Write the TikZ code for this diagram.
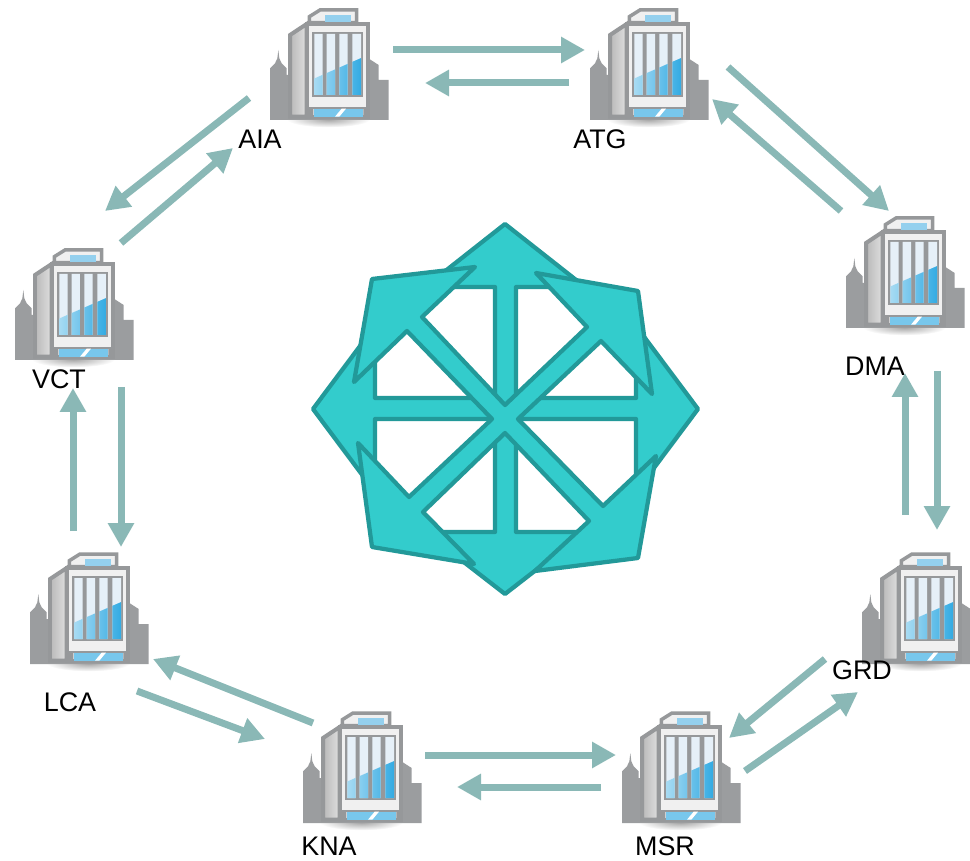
\documentclass[tikz,border=0pt]{standalone}
\usepackage{fontspec}
\setmainfont{Liberation Sans}
\usetikzlibrary{arrows.meta}
\definecolor{flowgreen}{HTML}{8AB8B6}
\definecolor{starfill}{HTML}{33CCCC}
\definecolor{starline}{HTML}{229999}
\definecolor{skygray}{HTML}{9B9D9F}
\definecolor{wallgray}{HTML}{96989A}
\definecolor{paneblue}{HTML}{2FA9E2}
\definecolor{panelight}{HTML}{E6F0F8}
\tikzset{
  flow/.style={draw=flowgreen,line width=0.14cm,-{Triangle[length=0.48cm,width=0.5cm]}},
  starpart/.style={draw=starline,fill=starfill,line width=0.085cm,line join=round},
  lbl/.style={font=\fontsize{15.3pt}{16pt}\selectfont,text=black,inner sep=0pt},
  bldg/.pic={
    \begin{scope}[scale=1/3]
    \shade[inner color=gray!70,outer color=white,draw=none] (205,358) ellipse (125 and 24);
    %Skyline
    \fill[skygray] (30,360)--(30,205)--(45,190)--(52,175)--(55,150)--(58,175)--(65,190)--(80,205)--(80,225)--(100,225)--(325,175)--(356,195)--(356,240)--(386,240)--(386,360)--cycle;
    %Side wing
    \path[left color=gray!55,right color=gray!25,draw=wallgray,line width=0.08cm] (90,105)--(140,72)--(140,350)--(90,350)--cycle;
    %Penthouse
    \draw[wallgray,fill=gray!12,line width=0.07cm] (148,68)--(148,50)--(180,30)--(290,30)--(290,68)--cycle;
    \fill[panelight!55!paneblue] (195,45) rectangle (272,65);
    %Facade
    \draw[wallgray,fill=gray!12,line width=0.08cm] (140,72) rectangle (325,352);
    \fill[wallgray] (157,95) rectangle (308,291);
    \begin{scope}
    \clip (163,102) rectangle (188,285) (200,102) rectangle (225,285) (238,102) rectangle (263,285) (277,102) rectangle (303,285);
    \fill[panelight] (157,95) rectangle (308,291);
    \path[left color=paneblue!40,right color=paneblue] (157,238)--(308,172)--(308,291)--(157,291)--cycle;
    \end{scope}
    %Entrance
    \fill[wallgray] (145,320) rectangle (320,326);
    \fill[wallgray] (145,326) rectangle (160,350) (310,326) rectangle (320,350);
    \fill[paneblue!65!white] (162,326) rectangle (308,350);
    \fill[white] (225,350)--(245,326)--(258,326)--(238,350)--cycle;
    \end{scope}
  }
}
\begin{document}
\begin{tikzpicture}[x=0.02cm,y=-0.02cm]
        \clip (0,0) rectangle (970,861);
        %Buildings
        \foreach \n/\x/\y/\u/\v in{
        AIA/260/0/260/139, ATG/580/0/600/139, DMA/836/208/875/366, GRD/852/544/862/670,
        MSR/612/703/665/846, KNA/293/703/329/846, LCA/20/544/70/702, VCT/5/240/59/379
        }{\pic (b\n) at (\x,\y) {bldg};
        \node[lbl] (l\n) at (\u,\v) {\n};}
        %Connector ends
        \foreach \n/\x/\y in{
        a1/393/50, a2/585/50, b1/569/83, b2/425/83, c1/728/67, c2/889/211, d1/841/211, d2/712/99,
        e1/937/371, e2/937/530, f1/905/515, f2/905/373, g1/825/659, g2/729/738, h1/745/771, h2/858/692,
        i1/425/755, i2/616/755, j1/601/787, j2/457/787, k1/313/723, k2/153/659, m1/137/691, m2/265/739,
        n1/73/531, n2/73/388, o1/121/387, o2/121/547, p1/121/243, p2/233/148, q1/249/98, q2/105/211
        }{\coordinate (\n) at (\x,\y);}
        %Connectors
        \foreach \n in {a,b,c,d,e,f,g,h,i,j,k,m,n,o,p,q}{\draw[flow] (\n1)--(\n2);}
        %Centre star, upright arrows
        \draw[starpart] (505,224)--(585,287)--(516,287)--(516,398)--(636,398)--(636,326)--(698,409)--(636,492)--(636,419)--(516,419)--(516,532)--(585,532)--(505,594)--(425,532)--(495,532)--(495,419)--(375,419)--(375,492)--(313,409)--(375,326)--(375,398)--(495,398)--(495,287)--(425,287)--cycle;
        %Centre star, slanted arrows
        \draw[starpart] (372,279)--(475,267)--(422,317)--(505,405)--(587,327)--(536,273)--(638,291)--(652,394)--(601,341)--(518,419)--(603,506)--(656,456)--(638,558)--(535,571)--(589,521)--(505,433)--(423,512)--(474,564)--(372,547)--(358,443)--(409,497)--(492,419)--(407,331)--(354,382)--cycle;
\end{tikzpicture}
\end{document}
